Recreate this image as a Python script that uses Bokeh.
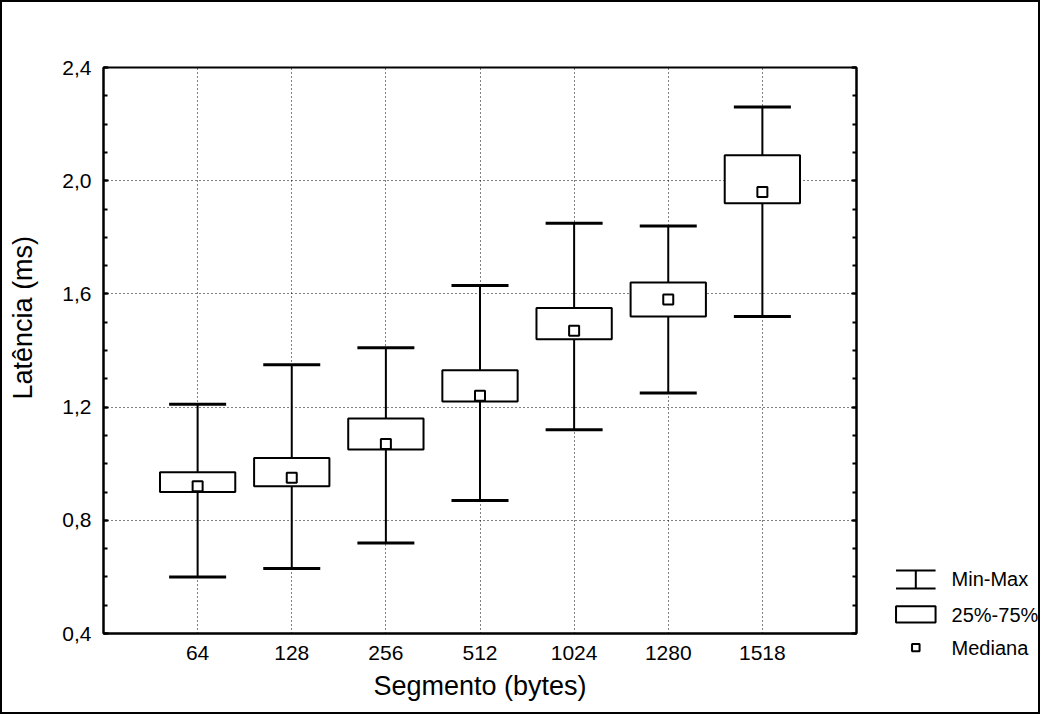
import math
from bokeh.plotting import figure
from bokeh.models import (Range1d, FixedTicker, LinearAxis, Whisker, TeeHead,
                          ColumnDataSource, Column)
from bokeh.embed import file_html
from bokeh.resources import INLINE
from bokeh.core.properties import value

# ---- data ----
segments = ["64", "128", "256", "512", "1024", "1280", "1518"]
lat_min = [0.60, 0.63, 0.72, 0.87, 1.12, 1.25, 1.52]
lat_q1 = [0.90, 0.92, 1.05, 1.22, 1.44, 1.52, 1.92]
lat_median = [0.92, 0.95, 1.07, 1.24, 1.47, 1.58, 1.96]
lat_q3 = [0.97, 1.02, 1.16, 1.33, 1.55, 1.64, 2.09]
lat_max = [1.21, 1.35, 1.41, 1.63, 1.85, 1.84, 2.26]
y_ticks = [0.4, 0.8, 1.2, 1.6, 2.0, 2.4]
legend_labels = ["Min-Max", "25%-75%", "Mediana"]
x_title = "Segmento (bytes)"
y_title = "Latência (ms)"

FONT = "Liberation Sans"
positions = [i + 1 for i in range(len(segments))]

src = ColumnDataSource(dict(x=positions, seg=segments, lo=lat_min, q1=lat_q1,
                            med=lat_median, q3=lat_q3, hi=lat_max))

p = figure(width=1036, height=710, x_range=Range1d(0, len(segments) + 1),
           y_range=Range1d(y_ticks[0], y_ticks[-1]),
           output_backend="svg", toolbar_location=None,
           min_border_left=101, min_border_right=182, min_border_top=65, min_border_bottom=79)
p.outline_line_color = "black"
p.outline_line_width = 2
p.background_fill_color = "white"
p.border_fill_color = "white"

# axes
p.xaxis.ticker = FixedTicker(ticks=positions)
p.xaxis.major_label_overrides = {x: s for x, s in zip(positions, segments)}
minor = [round(y_ticks[0] + 0.1 * i, 1) for i in range(int(round((y_ticks[-1] - y_ticks[0]) / 0.1)) + 1)]
p.yaxis.ticker = FixedTicker(ticks=y_ticks, minor_ticks=minor)
p.yaxis.major_label_overrides = {t: f"{t:.1f}".replace(".", ",") for t in y_ticks}
p.xaxis.axis_label = x_title
for ax in (p.xaxis, p.yaxis):
    ax.axis_line_color = "black"
    ax.axis_line_width = 2
    ax.major_tick_in = 5
    ax.major_tick_out = 0
    ax.minor_tick_in = 4
    ax.minor_tick_out = 0
    ax.major_tick_line_color = "black"
    ax.minor_tick_line_color = "black"
    ax.major_tick_line_width = 2
    ax.minor_tick_line_width = 2
    ax.major_label_text_font = FONT
    ax.major_label_text_font_size = "21px"
    ax.major_label_text_color = "black"
    ax.axis_label_text_font = FONT
    ax.axis_label_text_font_size = "27px"
    ax.axis_label_text_font_style = "normal"
    ax.axis_label_text_color = "black"
p.xaxis.major_tick_in = 0
p.xaxis.major_label_standoff = 12
p.xaxis.axis_label_standoff = 8
p.yaxis.major_label_standoff = 12

right = LinearAxis(ticker=FixedTicker(ticks=y_ticks, minor_ticks=minor),
                   major_label_text_color=None, major_tick_in=5, major_tick_out=0,
                   minor_tick_in=4, minor_tick_out=0, axis_line_width=2,
                   major_tick_line_width=2, minor_tick_line_width=2)
p.add_layout(right, "right")

# grid
p.xgrid.ticker = FixedTicker(ticks=positions)
p.ygrid.ticker = FixedTicker(ticks=y_ticks)
for g in (p.xgrid, p.ygrid):
    g.grid_line_color = "black"
    g.grid_line_dash = "1 3"
    g.grid_line_width = 1
    g.grid_line_alpha = 1

# whiskers (min-max)
w = Whisker(source=src, base="x", lower="lo", upper="hi", dimension="height",
            line_color="black", line_width=2,
            lower_head=TeeHead(size=57, line_width=3, line_color="black"),
            upper_head=TeeHead(size=57, line_width=3, line_color="black"))
p.add_layout(w)

# boxes (25%-75%)
p.vbar(x="x", width=0.8, bottom="q1", top="q3", source=src,
       fill_color="white", line_color="black", line_width=2)

# medians
p.scatter(x="x", y="med", source=src, marker="square", size=10,
          fill_color="white", line_color="black", line_width=2)

# y-axis title (placed slightly above the frame centre, as in the original)
p.text(x=[-0.85], y=[1.516], text=[y_title], angle=math.pi / 2, text_align="center",
       text_baseline="middle", text_font=value(FONT), text_font_size="27px",
       text_color="black", level="overlay")

# ---- legend (outside the frame: overlay-level renderers are not clipped) ----
key_x = 8.63          # centre of the legend keys (data units, right of the frame)
text_x = 9.01
p.segment(x0=[key_x], y0=[0.559], x1=[key_x], y1=[0.623], line_color="black",
          line_width=2, level="overlay")
p.segment(x0=[key_x - 0.21] * 2, y0=[0.559, 0.623], x1=[key_x + 0.21] * 2, y1=[0.559, 0.623],
          line_color="black", line_width=2, level="overlay")
p.quad(left=[key_x - 0.21], right=[key_x + 0.21], bottom=[0.439], top=[0.496],
       fill_color="white", line_color="black", line_width=2, level="overlay")
p.quad(left=[key_x - 0.04], right=[key_x + 0.04], bottom=[0.337], top=[0.363],
       fill_color="white", line_color="black", line_width=2, level="overlay")
p.text(x=[text_x] * 3, y=[0.591, 0.467, 0.350], text=legend_labels, text_baseline="middle",
       text_font=value(FONT), text_font_size="20px", text_color="black", level="overlay")

layout = Column(children=[p], styles={"border": "2px solid black"})

open("out.html", "w").write(file_html(layout, INLINE))
